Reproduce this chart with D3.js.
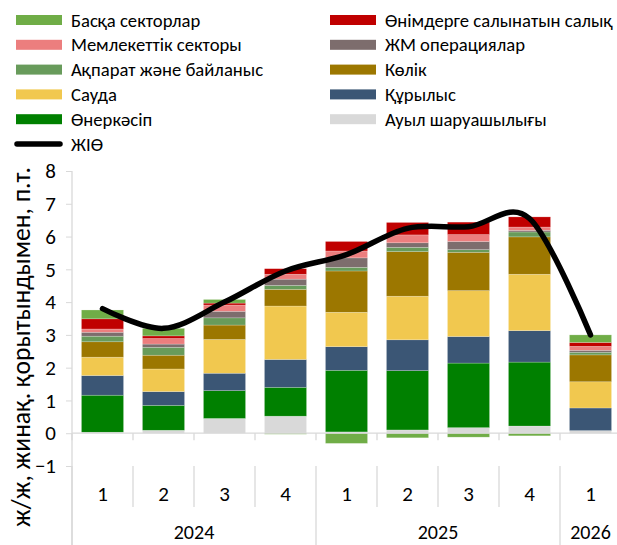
<!DOCTYPE html>
<html>
<head>
<meta charset="utf-8">
<script src="https://cdn.jsdelivr.net/npm/d3@7"></script>
<style>
  html, body { margin: 0; padding: 0; background: #fff; }
  svg { display: block; }
  .lbl { font-family: "Carlito", "Liberation Sans Narrow", "Arial Narrow", "Liberation Sans", sans-serif; fill: #000; }
  .num { font-family: "Carlito", "Liberation Sans", Arial, sans-serif; fill: #000; }
</style>
</head>
<body>
<svg id="chart" width="617" height="545"></svg>
<script>
// ---- data ----
const quarters = ["1", "2", "3", "4", "1", "2", "3", "4", "1"];
const years = ["2024", "2024", "2024", "2024", "2025", "2025", "2025", "2025", "2026"];

const agriculture  = [0.03, 0.09, 0.45, 0.52, 0.04, 0.10, 0.17, 0.22, 0.08];
const industry     = [1.13, 0.76, 0.85, 0.88, 1.88, 1.81, 1.97, 1.95, 0.00];
const construction = [0.60, 0.42, 0.53, 0.85, 0.72, 0.94, 0.81, 0.96, 0.69];
const trade        = [0.56, 0.69, 1.03, 1.63, 1.05, 1.33, 1.40, 1.72, 0.80];
const transport    = [0.47, 0.42, 0.44, 0.51, 1.26, 1.36, 1.17, 1.14, 0.82];
const infoComm     = [0.17, 0.24, 0.22, 0.12, 0.11, 0.13, 0.08, 0.15, 0.08];
const realEstate   = [0.12, 0.10, 0.20, 0.19, 0.29, 0.14, 0.25, 0.05, 0.06];
const publicSector = [0.10, 0.17, 0.19, 0.15, 0.21, 0.24, 0.21, 0.10, 0.12];
const taxes        = [0.31, 0.08, 0.06, 0.17, 0.29, 0.38, 0.38, 0.31, 0.12];
const otherSectors = [0.27, 0.23, 0.11, -0.03, -0.31, -0.14, -0.12, -0.08, 0.23];
const gdp          = [3.80, 3.20, 4.00, 4.95, 5.45, 6.25, 6.30, 6.55, 3.00];

const yTicks = [-1, 0, 1, 2, 3, 4, 5, 6, 7, 8];

const seriesNames = ["Ауыл шаруашылығы", "Өнеркәсіп", "Құрылыс", "Сауда", "Көлік",
  "Ақпарат және байланыс", "ЖМ операциялар", "Мемлекеттік секторы", "Өнімдерге салынатын салық", "Басқа секторлар"];
const seriesValues = [agriculture, industry, construction, trade, transport, infoComm, realEstate, publicSector, taxes, otherSectors];
const seriesColors = ["#d9d9d9", "#008000", "#3b5675", "#f1c84f", "#9c7700",
  "#689b5b", "#7d6d6d", "#ec7e7e", "#c00000", "#70ad47"];
const lineName = "ЖІӨ";
const yTitle = "ж/ж, жинақ. қорытындымен, п.т.";

// legend order (row-major, two columns)
const legendOrder = [9, 8, 7, 6, 5, 4, 3, 2, 1, 0];

// ---- build ----
const svg = d3.select("#chart");
const axisColor = "#d9d9d9";

function fitFont(sel, targetWidth) {
  const base = 20;
  sel.style("font-size", base + "px");
  const w = sel.node().getComputedTextLength();
  return base * targetWidth / w;
}

const rows = quarters.map((q, i) => {
  const r = { i };
  seriesNames.forEach((n, k) => { r[n] = seriesValues[k][i]; });
  return r;
});

const stacked = d3.stack().keys(seriesNames).offset(d3.stackOffsetDiverging)(rows);

const x = d3.scaleBand().domain(d3.range(quarters.length)).range([72, 621])
  .paddingInner(0.31).paddingOuter(0.155);
const y = d3.scaleLinear().domain([-1, 8]).range([466, 171]);

// bars
svg.append("g").selectAll("g").data(stacked).join("g")
  .attr("fill", (d, k) => seriesColors[k])
  .selectAll("rect").data(d => d).join("rect")
  .attr("x", d => x(d.data.i))
  .attr("width", x.bandwidth())
  .attr("y", d => y(Math.max(d[0], d[1])))
  .attr("height", d => Math.abs(y(d[0]) - y(d[1])))
  .attr("stroke", "#ffffff").attr("stroke-opacity", 0.35).attr("stroke-width", 0.6);

// y axis
const yAxis = svg.append("g").attr("transform", "translate(72,0)")
  .call(d3.axisLeft(y).tickValues(yTicks).tickSize(6).tickPadding(10).tickFormat(d3.format("d")));
yAxis.select(".domain").remove();
yAxis.selectAll(".tick line").attr("stroke", axisColor);
yAxis.selectAll(".tick text").attr("class", "num").style("font-size", "21px").attr("font-family", null);
svg.append("line").attr("x1", 72).attr("x2", 72).attr("y1", y(8)).attr("y2", 545)
  .attr("stroke", axisColor).attr("stroke-width", 1.3);

// x axis at zero
const bounds = d3.range(quarters.length + 1).map(i => 72 + i * x.step());
svg.append("line").attr("x1", 72).attr("x2", 621).attr("y1", y(0)).attr("y2", y(0))
  .attr("stroke", axisColor).attr("stroke-width", 1.3);
svg.append("g").selectAll("line").data(bounds).join("line")
  .attr("x1", d => d).attr("x2", d => d).attr("y1", y(0)).attr("y2", y(0) + 7)
  .attr("stroke", axisColor).attr("stroke-width", 1.3);

// category label area separators
const groupStarts = bounds.filter((b, i) => i === 0 || i === quarters.length || years[i] !== years[i - 1]);
svg.append("g").selectAll("line").data(bounds).join("line")
  .attr("x1", d => d).attr("x2", d => d)
  .attr("y1", y(-1)).attr("y2", d => groupStarts.includes(d) ? 545 : 507)
  .attr("stroke", axisColor).attr("stroke-width", 1.3);

svg.append("g").selectAll("text").data(quarters).join("text")
  .attr("class", "num")
  .attr("x", (d, i) => x(i) + x.bandwidth() / 2)
  .attr("y", 501).attr("text-anchor", "middle").style("font-size", "21px")
  .text(d => d);

const yearGroups = d3.groups(years.map((yv, i) => ({ yv, i })), d => d.yv);
svg.append("g").selectAll("text").data(yearGroups).join("text")
  .attr("class", "num")
  .attr("x", d => (72 + d[1][0].i * x.step() + 72 + (d[1][d[1].length - 1].i + 1) * x.step()) / 2)
  .attr("y", 539).attr("text-anchor", "middle").style("font-size", "20px")
  .text(d => d[0]);

// GDP line
svg.append("path").datum(gdp)
  .attr("fill", "none").attr("stroke", "#000").attr("stroke-width", 5.5)
  .attr("stroke-linecap", "round").attr("stroke-linejoin", "round")
  .attr("d", d3.line().x((d, i) => x(i) + x.bandwidth() / 2).y(d => y(d)).curve(d3.curveCardinal.tension(0)));

// y title
const yt = svg.append("text").attr("class", "lbl")
  .attr("transform", "translate(30,347) rotate(-90)")
  .attr("text-anchor", "middle")
  .text(yTitle);
yt.style("font-size", fitFont(yt, 360) + "px");

// legend
const lg = svg.append("g");
const colX = [16, 330];
const legendTexts = [];
legendOrder.forEach((k, j) => {
  const col = j % 2, row = Math.floor(j / 2);
  const sx = colX[col];
  const cy = 20 + row * 24.8;
  lg.append("rect").attr("x", sx).attr("y", cy - 5).attr("width", 46).attr("height", 10).attr("fill", seriesColors[k]);
  legendTexts.push(lg.append("text").attr("class", "lbl").attr("x", sx + 55).attr("y", cy + 6.5).text(seriesNames[k]));
});
lg.append("line").attr("x1", 17).attr("x2", 60).attr("y1", 144).attr("y2", 144)
  .attr("stroke", "#000").attr("stroke-width", 5.5).attr("stroke-linecap", "round");
legendTexts.push(lg.append("text").attr("class", "lbl").attr("x", 71).attr("y", 150.5).text(lineName));
const legFs = fitFont(legendTexts[1], 228);
legendTexts.forEach(t => t.style("font-size", legFs + "px"));
</script>
</body>
</html>
